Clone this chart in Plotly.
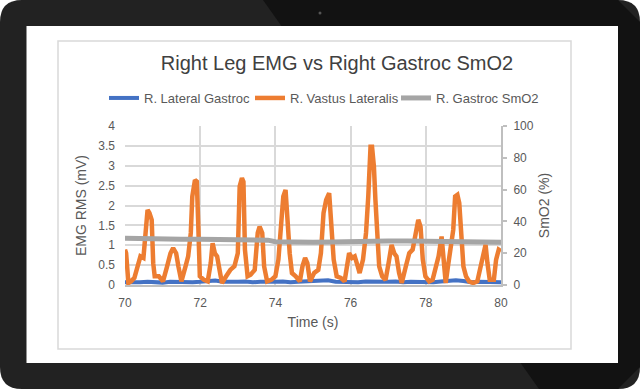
import plotly.graph_objects as go

# ---------------- data ----------------
vl_time = [70.00, 70.03, 70.09, 70.16, 70.25, 70.33, 70.41, 70.49, 70.54, 70.60, 70.65, 70.71, 70.75, 70.79,
           70.90, 71.01, 71.12, 71.21, 71.28, 71.36, 71.42, 71.50, 71.61, 71.68, 71.75, 71.79, 71.86, 71.91,
           71.95, 71.99, 72.10, 72.20, 72.28, 72.33, 72.39, 72.45, 72.53, 72.58, 72.69, 72.80, 72.91, 73.00,
           73.05, 73.11, 73.15, 73.19, 73.26, 73.34, 73.45, 73.53, 73.58, 73.65, 73.70, 73.78, 73.89, 74.00,
           74.08, 74.16, 74.21, 74.27, 74.32, 74.38, 74.44, 74.54, 74.65, 74.72, 74.79, 74.85, 74.92, 75.03,
           75.14, 75.21, 75.28, 75.35, 75.43, 75.48, 75.55, 75.63, 75.74, 75.84, 75.90, 75.96, 76.04, 76.11,
           76.19, 76.24, 76.33, 76.41, 76.47, 76.53, 76.57, 76.62, 76.66, 76.71, 76.76, 76.84, 76.93, 77.01,
           77.09, 77.16, 77.22, 77.29, 77.36, 77.47, 77.56, 77.65, 77.74, 77.80, 77.86, 77.92, 77.99, 78.09,
           78.18, 78.26, 78.34, 78.42, 78.47, 78.53, 78.59, 78.65, 78.73, 78.78, 78.84, 78.89, 78.95, 79.00,
           79.07, 79.15, 79.26, 79.37, 79.46, 79.53, 79.59, 79.64, 79.70, 79.81, 79.87, 79.94, 80.00]
vl_emg = [0.89, 0.80, 0.05, 0.09, 0.18, 0.51, 0.72, 0.68, 1.14, 1.89, 1.81, 1.64, 0.55, 0.22,
          0.22, 0.09, 0.47, 0.80, 0.93, 0.80, 0.47, 0.09, 0.47, 0.72, 1.31, 2.23, 2.64, 2.60,
          1.47, 0.22, 0.13, 0.09, 0.55, 1.05, 0.80, 0.72, 0.30, 0.05, 0.22, 0.38, 0.47, 0.80,
          2.48, 2.69, 2.60, 0.89, 0.22, 0.26, 0.38, 1.31, 1.47, 1.31, 0.47, 0.09, 0.13, 0.22,
          0.64, 1.81, 2.23, 2.39, 1.64, 0.80, 0.30, 0.22, 0.09, 0.47, 0.68, 0.55, 0.09, 0.30,
          0.38, 0.80, 1.81, 2.14, 2.31, 1.64, 0.64, 0.22, 0.18, 0.09, 0.47, 0.80, 0.68, 0.72,
          0.47, 0.30, 0.64, 1.31, 2.23, 3.48, 3.48, 2.98, 2.14, 1.31, 0.47, 0.22, 0.13, 0.55,
          1.01, 0.80, 0.72, 0.30, 0.05, 0.47, 0.80, 0.89, 1.31, 1.64, 1.47, 0.64, 0.22, 0.09,
          0.13, 0.47, 0.72, 1.22, 0.64, 0.05, 0.47, 0.80, 1.39, 2.23, 2.27, 2.06, 1.31, 0.47,
          0.22, 0.09, 0.05, 0.09, 0.47, 0.76, 1.01, 0.55, 0.13, 0.13, 0.64, 0.89, 0.85]

lg_time = [70.0, 70.2, 70.4, 70.6, 70.8, 71.0, 71.2, 71.4, 71.6, 71.8, 72.0, 72.2, 72.4, 72.6, 72.8, 73.0,
           73.2, 73.4, 73.6, 73.8, 74.0, 74.2, 74.4, 74.6, 74.8, 75.0, 75.2, 75.4, 75.6, 75.8, 76.0, 76.2,
           76.4, 76.6, 76.8, 77.0, 77.2, 77.4, 77.6, 77.8, 78.0, 78.2, 78.4, 78.6, 78.8, 79.0, 79.2, 79.4,
           79.6, 79.8, 80.0]
lg_emg = [0.07, 0.06, 0.07, 0.08, 0.07, 0.06, 0.08, 0.07, 0.08, 0.07, 0.08, 0.09, 0.11, 0.08, 0.07, 0.08,
          0.09, 0.07, 0.08, 0.07, 0.08, 0.09, 0.07, 0.08, 0.09, 0.08, 0.10, 0.12, 0.08, 0.07, 0.08, 0.07,
          0.09, 0.08, 0.07, 0.08, 0.09, 0.07, 0.08, 0.07, 0.08, 0.07, 0.09, 0.10, 0.12, 0.10, 0.07, 0.08,
          0.07, 0.08, 0.07]

smo2_time = [70.0, 70.5, 71.0, 71.5, 72.0, 72.5, 73.0, 73.5, 73.8, 74.0, 74.5, 75.0, 75.5, 76.0, 76.5,
             77.0, 77.5, 78.0, 78.5, 79.0, 79.5, 80.0]
smo2_pct = [29.4, 29.0, 28.9, 28.8, 28.7, 28.6, 28.6, 28.5, 28.2, 27.2, 26.9, 26.9, 27.1, 27.5, 27.6,
            27.6, 27.6, 27.6, 27.1, 26.9, 26.9, 26.9]

x_ticks = [70, 72, 74, 76, 78, 80]

# ---------------- geometry helpers (pixel -> paper) ----------------
W, H = 640, 389
L, R, T, B = 125, 501, 126, 285


def px(x):
    return (x - L) / (R - L)


def py(y):
    return (B - y) / (B - T)


def rrect(x0, y0, x1, y1, r):
    return (f"M{px(x0 + r)},{py(y0)} L{px(x1 - r)},{py(y0)} Q{px(x1)},{py(y0)} {px(x1)},{py(y0 + r)} "
            f"L{px(x1)},{py(y1 - r)} Q{px(x1)},{py(y1)} {px(x1 - r)},{py(y1)} "
            f"L{px(x0 + r)},{py(y1)} Q{px(x0)},{py(y1)} {px(x0)},{py(y1 - r)} "
            f"L{px(x0)},{py(y0 + r)} Q{px(x0)},{py(y0)} {px(x0 + r)},{py(y0)} Z")


def poly(points):
    return "M" + " L".join(f"{px(a)},{py(b)}" for a, b in points) + " Z"


FONT = "Liberation Sans, Arial, sans-serif"
TXT = "#595959"
GRID = "#d9d9d9"

fig = go.Figure()
fig.add_trace(go.Scatter(x=lg_time, y=lg_emg, mode="lines", name="R. Lateral Gastroc",
                         line=dict(color="#4472c4", width=4)))
fig.add_trace(go.Scatter(x=vl_time, y=vl_emg, mode="lines", name="R. Vastus Lateralis",
                         line=dict(color="#ed7d31", width=4.5)))
fig.add_trace(go.Scatter(x=smo2_time, y=smo2_pct, mode="lines", name="R. Gastroc SmO2", yaxis="y2",
                         line=dict(color="#a5a5a5", width=5)))

shapes = [
    # tablet body
    dict(type="path", xref="paper", yref="paper", path=rrect(0, 0, 640, 389, 22),
         fillcolor="#222222", line=dict(width=0), layer="below"),
    # darker glare half
    dict(type="path", xref="paper", yref="paper",
         path=poly([(263, 0), (618, 0), (640, 22), (640, 367), (618, 389), (539, 389)]),
         fillcolor="#121212", line=dict(width=0), layer="below"),
    # screen
    dict(type="rect", xref="paper", yref="paper", x0=px(26.5), x1=px(618), y0=py(363), y1=py(26),
         fillcolor="white", line=dict(width=0), layer="below"),
    # chart area border
    dict(type="rect", xref="paper", yref="paper", x0=px(58), x1=px(571), y0=py(349), y1=py(41),
         fillcolor="white", line=dict(color=GRID, width=1.5), layer="below"),
    # camera
    dict(type="circle", xref="paper", yref="paper", x0=px(318.5), x1=px(321.5), y0=py(14.5), y1=py(11.5),
         fillcolor="#555555", line=dict(width=0), layer="below"),
]

fig.update_layout(
    width=W, height=H,
    margin=dict(l=L, r=W - R, t=T, b=H - B, pad=0),
    paper_bgcolor="white", plot_bgcolor="white",
    font=dict(family=FONT, color=TXT, size=12),
    title=dict(text="Right Leg EMG vs Right Gastroc SmO2", x=px(337), xref="paper", xanchor="center",
               y=1 - 63 / H, yref="container", yanchor="middle",
               font=dict(size=20, color="#404040", family=FONT)),
    legend=dict(orientation="h", x=px(104), xanchor="left", y=py(98), yanchor="middle",
                font=dict(size=13, color=TXT), bgcolor="rgba(0,0,0,0)", itemwidth=30,
                entrywidth=101, entrywidthmode="pixels", traceorder="normal"),
    xaxis=dict(range=[70, 80], tickvals=x_ticks, showgrid=True, gridcolor=GRID, gridwidth=2,
               showline=True, linecolor="#bfbfbf", linewidth=2, zeroline=False,
               tickfont=dict(size=12, color=TXT), ticklabelstandoff=6,
               title=dict(text="Time (s)", font=dict(size=14, color=TXT), standoff=8)),
    yaxis=dict(range=[0, 4], dtick=0.5, showgrid=True, gridcolor=GRID, gridwidth=2, zeroline=False,
               showline=False, tickfont=dict(size=12, color=TXT), ticklabelstandoff=9,
               title=dict(text="EMG RMS (mV)", font=dict(size=14, color=TXT), standoff=8)),
    yaxis2=dict(range=[0, 100], dtick=20, overlaying="y", side="right", showgrid=False, zeroline=False,
                showline=True, linecolor="#bfbfbf", linewidth=2, ticks="outside", ticklen=4,
                tickcolor="#bfbfbf", tickwidth=1.5, tickfont=dict(size=12, color=TXT),
                ticklabelstandoff=4,
                title=dict(text="SmO2 (%)", font=dict(size=14, color=TXT), standoff=6)),
    shapes=shapes,
    showlegend=True,
)

fig.write_html("out.html", config={"displayModeBar": False},
               post_script="document.body.style.margin='0';")
